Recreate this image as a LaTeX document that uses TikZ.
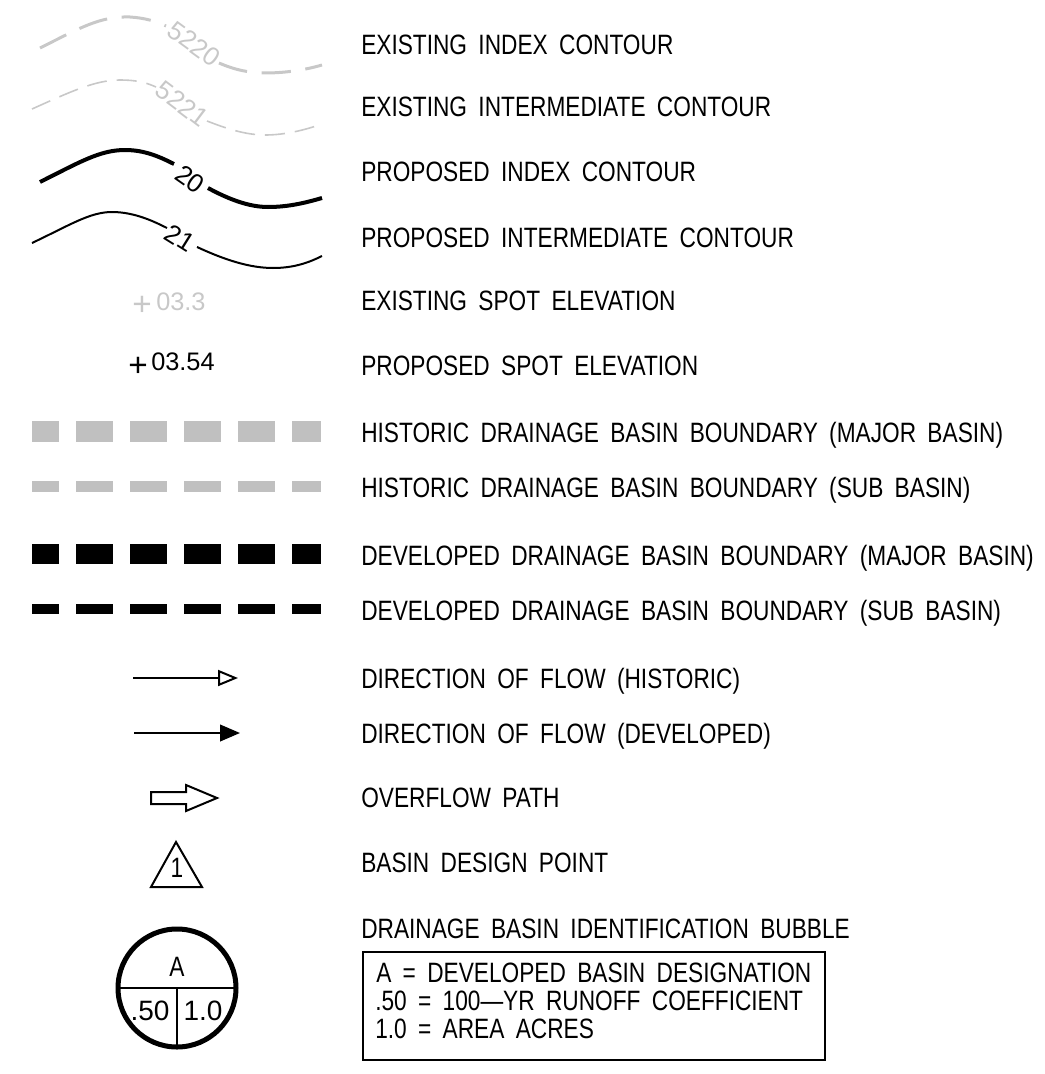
\documentclass[tikz,border=0pt]{standalone}
\usepackage{fontspec}
\setmainfont{Liberation Sans}[FakeStretch=0.81, WordSpace=1.8]
\newfontfamily\numfont{Liberation Sans}
\usetikzlibrary{arrows.meta}
\definecolor{exgray}{RGB}{200,200,200}
\definecolor{boxgray}{RGB}{192,192,192}
\begin{document}
\begin{tikzpicture}[x=0.75pt,y=-0.75pt,
  lbl/.style={anchor=base west, inner sep=0pt, font=\fontsize{21}{25}\selectfont},
  num/.style={inner sep=0pt, font=\numfont\fontsize{19}{23}\selectfont},
  plus/.style={inner sep=0pt, font=\numfont\fontsize{25}{28}\selectfont},
  clabel/.style={inner sep=0pt, font=\numfont\fontsize{19.5}{23}\selectfont},
  exidx/.style={draw=exgray, line width=2.25pt, dash pattern=on 22pt off 11pt},
  exint/.style={draw=exgray, line width=1.2pt, dash pattern=on 15pt off 7.5pt},
  pidx/.style={draw=black, line width=3pt},
  pint/.style={draw=black, line width=1.5pt},
  bnd/.style={dash pattern=on 27.75pt off 12.75pt, dash phase=7.5pt},
  thin/.style={line width=1.5pt}]
\useasboundingbox (0,0) rectangle (1045,1074);

% ---- contours
\draw[exidx] (40,48) .. controls (80,28) and (100,16) .. (130,17) .. controls (145,18) and (155,21) .. (166,26);
\node[clabel, text=exgray, rotate=-36] (l5220) at (194,44) {5220};
\draw[exidx] (219,63) .. controls (235,70) and (250,73) .. (265,73) .. controls (285,73) and (305,70) .. (322,65);

\draw[exint] (32,109) .. controls (70,92) and (95,80) .. (120,80) .. controls (135,80) and (145,82) .. (156,87);
\node[clabel, text=exgray, rotate=-37] (l5221) at (182,104) {5221};
\draw[exint] (207,121) .. controls (225,128) and (245,135) .. (265,135) .. controls (285,135) and (305,130) .. (322,124);

\draw[pidx] (40,182) .. controls (80,162) and (100,150) .. (125,150) .. controls (145,150) and (160,157) .. (174,164);
\node[clabel, rotate=-35] (l20) at (190,179) {20};
\draw[pidx] (208,188) .. controls (230,200) and (250,207) .. (268,207) .. controls (290,207) and (308,202) .. (322,198);

\draw[pint] (32,243) .. controls (70,225) and (90,212) .. (112,212) .. controls (135,212) and (155,222) .. (167,228);
\node[clabel, rotate=-32] (l21) at (180,238) {21};
\draw[pint] (197,247) .. controls (225,260) and (250,268) .. (273,268) .. controls (295,268) and (310,262) .. (322,256);

% ---- spot elevations
\node[plus, text=exgray] (exp) at (142,306) {+};
\node[num, text=exgray, anchor=base west] (exs) at (156,310) {03.3};
\node[plus] (prp) at (138,367) {+};
\node[num, anchor=base west] (prs) at (151,370) {03.54};

% ---- basin boundaries
\coordinate (hm1) at (32,431.5); \coordinate (hm2) at (321,431.5);
\draw[bnd, draw=boxgray, line width=15.75pt] (hm1) -- (hm2);
\coordinate (hs1) at (32,486.5); \coordinate (hs2) at (321,486.5);
\draw[bnd, draw=boxgray, line width=8.25pt] (hs1) -- (hs2);
\coordinate (dm1) at (32,554); \coordinate (dm2) at (321,554);
\draw[bnd, draw=black, line width=15pt] (dm1) -- (dm2);
\coordinate (ds1) at (32,609); \coordinate (ds2) at (321,609);
\draw[bnd, draw=black, line width=7.5pt] (ds1) -- (ds2);

% ---- flow arrows
\coordinate (fh1) at (133,678); \coordinate (fh2) at (238,678);
\draw[thin, -{Triangle[open, length=15pt, width=12pt]}] (fh1) -- (fh2);
\coordinate (fd1) at (134,733); \coordinate (fd2) at (240,733);
\draw[thin, -{Triangle[length=15pt, width=12.5pt]}] (fd1) -- (fd2);

% ---- overflow path
\draw[thin, line join=miter] (151,792) -- (186,792) -- (186,785) -- (217,798) -- (186,811) -- (186,804) -- (151,804) -- cycle;

% ---- design point
\draw[thin, line join=miter] (176,842) -- (202,887) -- (151,887) -- cycle;
\node[lbl, anchor=center] (dp) at (177,868) {1};

% ---- bubble
\node[circle, draw, line width=3.75pt, minimum size=88.5pt, inner sep=0pt, outer sep=0pt] (bub) at (177,988) {};
\draw[thin] (bub.west) -- (bub.east);
\draw[thin] (bub.center) -- (bub.south);
\node[lbl, anchor=base] (ba) at (177,976) {A};
\node[num, font=\numfont\fontsize{21}{25}\selectfont, anchor=base] (b50) at (150,1020) {.50};
\node[num, font=\numfont\fontsize{21}{25}\selectfont, anchor=base] (b10) at (203,1020) {1.0};

% ---- descriptions
\node[lbl] (t1) at (361,55) {EXISTING INDEX CONTOUR};
\node[lbl] (t2) at (361,117) {EXISTING INTERMEDIATE CONTOUR};
\node[lbl] (t3) at (361,181) {PROPOSED INDEX CONTOUR};
\node[lbl] (t4) at (361,247) {PROPOSED INTERMEDIATE CONTOUR};
\node[lbl] (t5) at (361,310) {EXISTING SPOT ELEVATION};
\node[lbl] (t6) at (361,375) {PROPOSED SPOT ELEVATION};
\node[lbl] (t7) at (361,442) {HISTORIC DRAINAGE BASIN BOUNDARY (MAJOR BASIN)};
\node[lbl] (t8) at (361,497) {HISTORIC DRAINAGE BASIN BOUNDARY (SUB BASIN)};
\node[lbl] (t9) at (361,565) {DEVELOPED DRAINAGE BASIN BOUNDARY (MAJOR BASIN)};
\node[lbl] (t10) at (361,620) {DEVELOPED DRAINAGE BASIN BOUNDARY (SUB BASIN)};
\node[lbl] (t11) at (361,688) {DIRECTION OF FLOW (HISTORIC)};
\node[lbl] (t12) at (361,743) {DIRECTION OF FLOW (DEVELOPED)};
\node[lbl] (t13) at (361,807) {OVERFLOW PATH};
\node[lbl] (t14) at (361,872) {BASIN DESIGN POINT};
\node[lbl] (t15) at (361,938) {DRAINAGE BASIN IDENTIFICATION BUBBLE};

% ---- key box
\draw[thin] (363,952) rectangle (825,1060);
\node[lbl] (k1) at (376,982) {A = DEVELOPED BASIN DESIGNATION};
\node[lbl] (k2) at (375,1010) {.50 = 100---YR RUNOFF COEFFICIENT};
\node[lbl] (k3) at (375,1038) {1.0 = AREA ACRES};
\end{tikzpicture}
\end{document}
